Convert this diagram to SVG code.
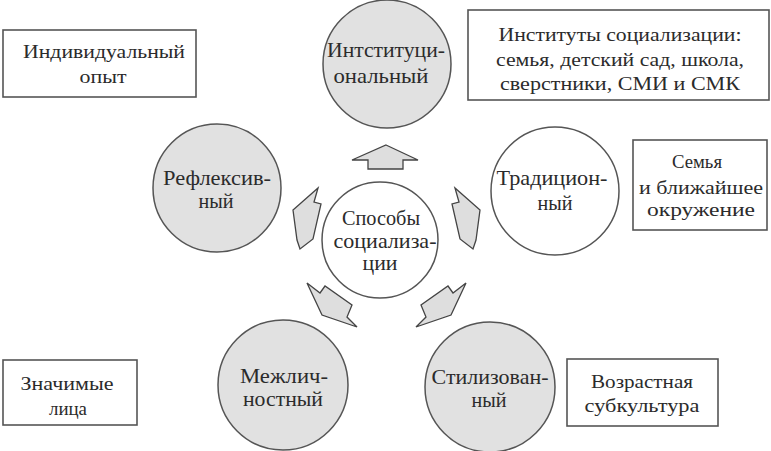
<svg xmlns="http://www.w3.org/2000/svg" width="771" height="451" viewBox="0 0 771 451">
<style>
.bg{fill:#ffffff}
.gc{fill:#e1e1e1;stroke:#555;stroke-width:1.5}
.wc{fill:#ffffff;stroke:#555;stroke-width:1.5}
.bx{fill:#ffffff;stroke:#555;stroke-width:1.6}
.ar{fill:#dedede;stroke:#444;stroke-width:1.3;stroke-linejoin:miter}
text{font-family:"Liberation Serif","Times New Roman",serif;fill:#2b2b2b;text-anchor:middle}
.ct{font-size:21px}
.bt{font-size:19.5px}
</style>
<rect class="bg" x="0" y="0" width="771" height="451"/>
<g id="connectors">
<polygon class="ar" points="386,145 418,160 403,160 403,169 368,169 368,160 352,160"/>
<polygon class="ar" points="318,188 314,202 321,204 313,239 300,249 297,240 293,210"/>
<polygon class="ar" points="455,188 459,202 452,204 460,239 473,249 476,240 480,210"/>
<polygon class="ar" points="307,283 320,293 325,286 352,305 347,317 357,327 322,315"/>
<polygon class="ar" points="466,283 453,293 448,286 421,305 426,317 416,327 451,315"/>
</g>
<g id="center">
<circle class="wc" cx="380" cy="240" r="58"/>
<text class="ct" x="381" y="225" textLength="78" lengthAdjust="spacingAndGlyphs">Способы</text>
<text class="ct" x="385" y="248" textLength="103" lengthAdjust="spacingAndGlyphs">социализа-</text>
<text class="ct" x="380" y="270" textLength="35" lengthAdjust="spacingAndGlyphs">ции</text>
</g>
<g id="institutional">
<circle class="gc" cx="387" cy="64" r="64"/>
<text class="ct" x="386" y="57" textLength="118" lengthAdjust="spacingAndGlyphs">Интституци-</text>
<text class="ct" x="381" y="83" textLength="95" lengthAdjust="spacingAndGlyphs">ональный</text>
</g>
<g id="traditional">
<circle class="wc" cx="555" cy="191" r="64"/>
<text class="ct" x="552" y="185" textLength="111" lengthAdjust="spacingAndGlyphs">Традицион-</text>
<text class="ct" x="555" y="210" textLength="35" lengthAdjust="spacingAndGlyphs">ный</text>
</g>
<g id="reflexive">
<circle class="gc" cx="217" cy="188" r="64"/>
<text class="ct" x="217" y="185" textLength="108" lengthAdjust="spacingAndGlyphs">Рефлексив-</text>
<text class="ct" x="216" y="208" textLength="35" lengthAdjust="spacingAndGlyphs">ный</text>
</g>
<g id="interpersonal">
<circle class="gc" cx="283" cy="385" r="65"/>
<text class="ct" x="284" y="383" textLength="88" lengthAdjust="spacingAndGlyphs">Межлич-</text>
<text class="ct" x="283" y="406" textLength="80" lengthAdjust="spacingAndGlyphs">ностный</text>
</g>
<g id="stylized">
<circle class="gc" cx="490" cy="387" r="65"/>
<text class="ct" x="490" y="384" textLength="117" lengthAdjust="spacingAndGlyphs">Стилизован-</text>
<text class="ct" x="489" y="407" textLength="35" lengthAdjust="spacingAndGlyphs">ный</text>
</g>
<g id="box-institutes">
<rect class="bx" x="468" y="10" width="301" height="90"/>
<text class="bt" x="620" y="41" textLength="243" lengthAdjust="spacingAndGlyphs">Институты социализации:</text>
<text class="bt" x="620" y="66" textLength="248" lengthAdjust="spacingAndGlyphs">семья, детский сад, школа,</text>
<text class="bt" x="620" y="90" textLength="240" lengthAdjust="spacingAndGlyphs">сверстники, СМИ и СМК</text>
</g>
<g id="box-individual">
<rect class="bx" x="3" y="30" width="193" height="67"/>
<text class="bt" x="104" y="58" textLength="162" lengthAdjust="spacingAndGlyphs">Индивидуальный</text>
<text class="bt" x="103" y="83" textLength="47" lengthAdjust="spacingAndGlyphs">опыт</text>
</g>
<g id="box-family">
<rect class="bx" x="633" y="140" width="134" height="90"/>
<text class="bt" x="697" y="168" textLength="50" lengthAdjust="spacingAndGlyphs">Семья</text>
<text class="bt" x="701" y="194" textLength="124" lengthAdjust="spacingAndGlyphs">и ближайшее</text>
<text class="bt" x="701" y="216" textLength="108" lengthAdjust="spacingAndGlyphs">окружение</text>
</g>
<g id="box-significant">
<rect class="bx" x="3" y="360" width="134" height="65"/>
<text class="bt" x="67" y="390" textLength="93" lengthAdjust="spacingAndGlyphs">Значимые</text>
<text class="bt" x="68" y="415" textLength="38" lengthAdjust="spacingAndGlyphs">лица</text>
</g>
<g id="box-subculture">
<rect class="bx" x="567" y="359" width="151" height="67"/>
<text class="bt" x="642" y="388" textLength="102" lengthAdjust="spacingAndGlyphs">Возрастная</text>
<text class="bt" x="642" y="412" textLength="115" lengthAdjust="spacingAndGlyphs">субкультура</text>
</g>
</svg>
